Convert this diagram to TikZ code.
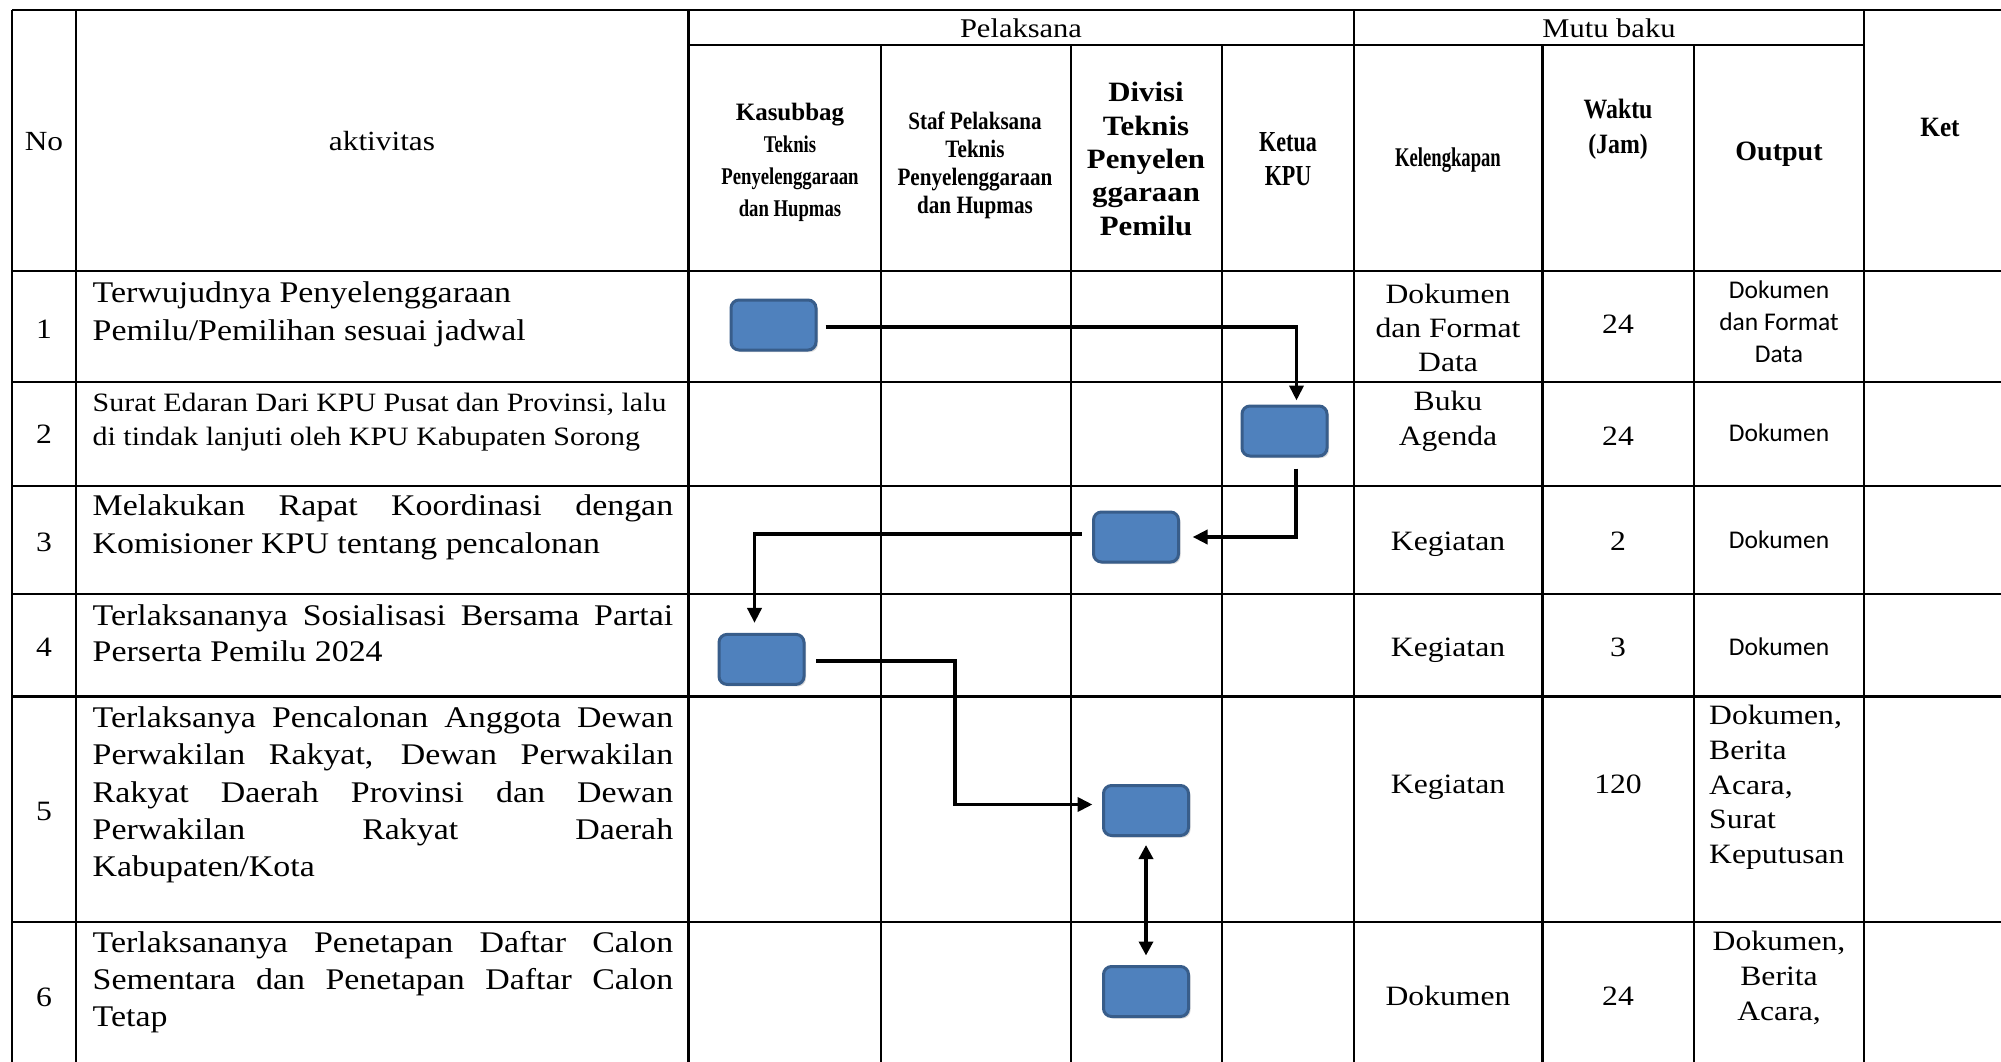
\documentclass[tikz,border=0pt]{standalone}
\usepackage{fontspec}
\usetikzlibrary{arrows.meta,shadows}
\newfontfamily\fBody{Liberation Serif}[FakeStretch=1.13]
\newfontfamily\fKas{Liberation Serif}[FakeStretch=0.78]
\newfontfamily\fStaf{Liberation Serif}[FakeStretch=0.845]
\newfontfamily\fDiv{Liberation Serif}[FakeStretch=1.1]
\newfontfamily\fKetua{Liberation Serif}[FakeStretch=0.76]
\newfontfamily\fKel{Liberation Serif}[FakeStretch=0.69]
\newfontfamily\fWak{Liberation Serif}[FakeStretch=0.85]
\newfontfamily\fPlain{Liberation Serif}
\newfontfamily\fKetr{Liberation Serif}[FakeStretch=0.9]
\newfontfamily\fSans{Carlito}
\definecolor{boxfill}{HTML}{4F81BD}
\definecolor{boxline}{HTML}{385D8A}
\newcommand{\jline}[1]{\makebox[580.5pt][s]{#1}}
\begin{document}
\begin{tikzpicture}[x=1pt,y=-1pt,
  grid/.style={line width=2.2pt},
  task/.style={draw=boxline, line width=3pt, fill=boxfill, rounded corners=8pt,
    minimum width=85pt, minimum height=50pt, inner sep=0pt,
    drop shadow={shadow xshift=2pt, shadow yshift=-2pt, opacity=0.3}},
  conn/.style={line width=3.8pt, -{Triangle[length=15pt,width=14pt]}},
  dconn/.style={line width=3.4pt, {Triangle[length=14pt,width=14pt]}-{Triangle[length=14pt,width=14pt]}},
  txt/.style={inner sep=0pt, align=left, anchor=base west, font=\fBody\fontsize{30}{37.3}\selectfont},
  hd/.style={inner sep=0pt, align=center, anchor=base},
  cell/.style={inner sep=0pt, align=center, anchor=base, font=\fBody\fontsize{28}{34}\selectfont},
  scell/.style={inner sep=0pt, align=center, anchor=base, font=\fSans\fontsize{25.5}{32}\selectfont},
  num/.style={inner sep=0pt, anchor=base, font=\fBody\fontsize{28}{34}\selectfont}]
\useasboundingbox (0,0) rectangle (2001,1062);
\fill[white] (0,0) rectangle (2001,1062);

% table grid
\draw[grid] (12,10) -- (2001,10);
\draw[grid] (688.5,45) -- (1864,45);
\foreach \yy in {270.7,382,486,594,696.5,921.7} \draw[grid] (12,\yy) -- (2001,\yy);
\foreach \xx in {12,76,688.5,1354,1864} \draw[grid] (\xx,10) -- (\xx,1062);
\foreach \xx in {881,1071,1222,1542.5,1694} \draw[grid] (\xx,45) -- (\xx,1062);

% header (multi-line nodes are anchored at the baseline of their last line)
\node[hd, font=\fBody\fontsize{27}{33}\selectfont] (hPel) at (1021,38) {Pelaksana};
\node[hd, font=\fBody\fontsize{27}{33}\selectfont] (hMutu) at (1609,38) {Mutu baku};
\node[hd, font=\fBody\fontsize{27.7}{33}\selectfont] (hNo) at (44,150) {No};
\node[hd, font=\fBody\fontsize{27.7}{33}\selectfont] (hAkt) at (382,150) {aktivitas};
\node[hd, font=\fKas\bfseries\fontsize{24}{32}\selectfont] (hKas) at (790,216.7)
  {{\fPlain\bfseries\fontsize{25}{32}\selectfont Kasubbag}\\Teknis\\Penyelenggaraan\\dan Hupmas};
\node[hd, font=\fStaf\bfseries\fontsize{25}{28}\selectfont] (hStaf) at (975,213.3)
  {Staf Pelaksana\\Teknis\\Penyelenggaraan\\dan Hupmas};
\node[hd, font=\fDiv\bfseries\fontsize{28}{33.3}\selectfont] (hDiv) at (1146,235)
  {Divisi\\Teknis\\Penyelen\\ggaraan\\Pemilu};
\node[hd, font=\fKetua\bfseries\fontsize{29}{33.3}\selectfont] (hKetua) at (1288,185) {Ketua\\KPU};
\node[hd, font=\fKel\bfseries\fontsize{27}{30}\selectfont] (hKel) at (1448,166.7) {Kelengkapan};
\node[hd, font=\fWak\bfseries\fontsize{28}{35}\selectfont] (hWak) at (1618,153.3) {Waktu\\(Jam)};
\node[hd, font=\fPlain\bfseries\fontsize{28}{33}\selectfont] (hOut) at (1779,160) {Output};
\node[hd, font=\fKetr\bfseries\fontsize{28}{33}\selectfont] (hKet) at (1940,136.7) {Ket};

% numbers
\node[num] (n1) at (44,338.3) {1};
\node[num] (n2) at (44,443.3) {2};
\node[num] (n3) at (44,551.7) {3};
\node[num] (n4) at (44,656) {4};
\node[num] (n5) at (44,820) {5};
\node[num] (n6) at (44,1006.7) {6};

% activities
\node[txt, font=\fBody\fontsize{30}{38}\selectfont] (a1) at (92.5,340)
  {Terwujudnya Penyelenggaraan\\Pemilu/Pemilihan sesuai jadwal};
\node[txt, font=\fBody\fontsize{26.5}{34}\selectfont] (a2) at (92.5,445)
  {Surat Edaran Dari KPU Pusat dan Provinsi, lalu\\di tindak lanjuti oleh KPU Kabupaten Sorong};
\node[txt, font=\fBody\fontsize{30}{38}\selectfont] (a3) at (92.5,553)
  {\jline{Melakukan Rapat Koordinasi dengan}\\Komisioner KPU tentang pencalonan};
\node[txt, font=\fBody\fontsize{30}{36.7}\selectfont] (a4) at (92.5,661.7)
  {\jline{Terlaksananya Sosialisasi Bersama Partai}\\Perserta Pemilu 2024};
\node[txt] (a5) at (92.5,876.7)
  {\jline{Terlaksanya Pencalonan Anggota Dewan}\\\jline{Perwakilan Rakyat, Dewan Perwakilan}\\\jline{Rakyat Daerah Provinsi dan Dewan}\\\jline{Perwakilan Rakyat Daerah}\\Kabupaten/Kota};
\node[txt, font=\fBody\fontsize{30}{37}\selectfont] (a6) at (92.5,1026.7)
  {\jline{Terlaksananya Penetapan Daftar Calon}\\\jline{Sementara dan Penetapan Daftar Calon}\\Tetap};

% kelengkapan
\node[cell] (k1) at (1448,371) {Dokumen\\dan Format\\Data};
\node[cell, font=\fBody\fontsize{28}{35}\selectfont] (k2) at (1448,445) {Buku\\Agenda};
\node[cell] (k3) at (1448,550) {Kegiatan};
\node[cell] (k4) at (1448,656.7) {Kegiatan};
\node[cell] (k5) at (1448,793) {Kegiatan};
\node[cell] (k6) at (1448,1005) {Dokumen};

% waktu
\node[cell] (w1) at (1618,333) {24};
\node[cell] (w2) at (1618,445) {24};
\node[cell] (w3) at (1618,550) {2};
\node[cell] (w4) at (1618,656.7) {3};
\node[cell] (w5) at (1618,793) {120};
\node[cell] (w6) at (1618,1005) {24};

% output
\node[scell] (o1) at (1779,362.3) {Dokumen\\dan Format\\Data};
\node[scell] (o2) at (1779,441.7) {Dokumen};
\node[scell] (o3) at (1779,548) {Dokumen};
\node[scell] (o4) at (1779,655) {Dokumen};
\node[cell, align=left, anchor=base west, font=\fBody\fontsize{28}{34.6}\selectfont] (o5) at (1709,863.3)
  {Dokumen,\\Berita\\Acara,\\Surat\\Keputusan};
\node[cell, font=\fBody\fontsize{28}{35}\selectfont] (o6) at (1779,1020) {Dokumen,\\Berita\\Acara,};

% flow boxes
\node[task] (b1) at (773.5,325) {};
\node[task] (b2) at (1284.5,431) {};
\node[task] (b3) at (1136,537) {};
\node[task] (b4) at (761.5,659.4) {};
\node[task] (b5) at (1146,810.5) {};
\node[task] (b6) at (1146,991.5) {};

% connectors
\draw[conn] ([xshift=8pt,yshift=-2pt]b1.east) -| ([xshift=12pt,yshift=4pt]b2.north);
\draw[conn] ([xshift=11.5pt,yshift=-11pt]b2.south) |- ([xshift=12.6pt]b3.east);
\draw[conn] ([xshift=-10.5pt,yshift=3pt]b3.west) -| ([xshift=-7pt,yshift=10pt]b4.north);
\draw[conn] ([xshift=10.5pt,yshift=-1.6pt]b4.east) -- ++(138.7,0) |- ([xshift=-9.5pt,yshift=6pt]b5.west);
\draw[dconn] ([yshift=-8pt]b5.south) -- ([yshift=9.5pt]b6.north);
\end{tikzpicture}
\end{document}
